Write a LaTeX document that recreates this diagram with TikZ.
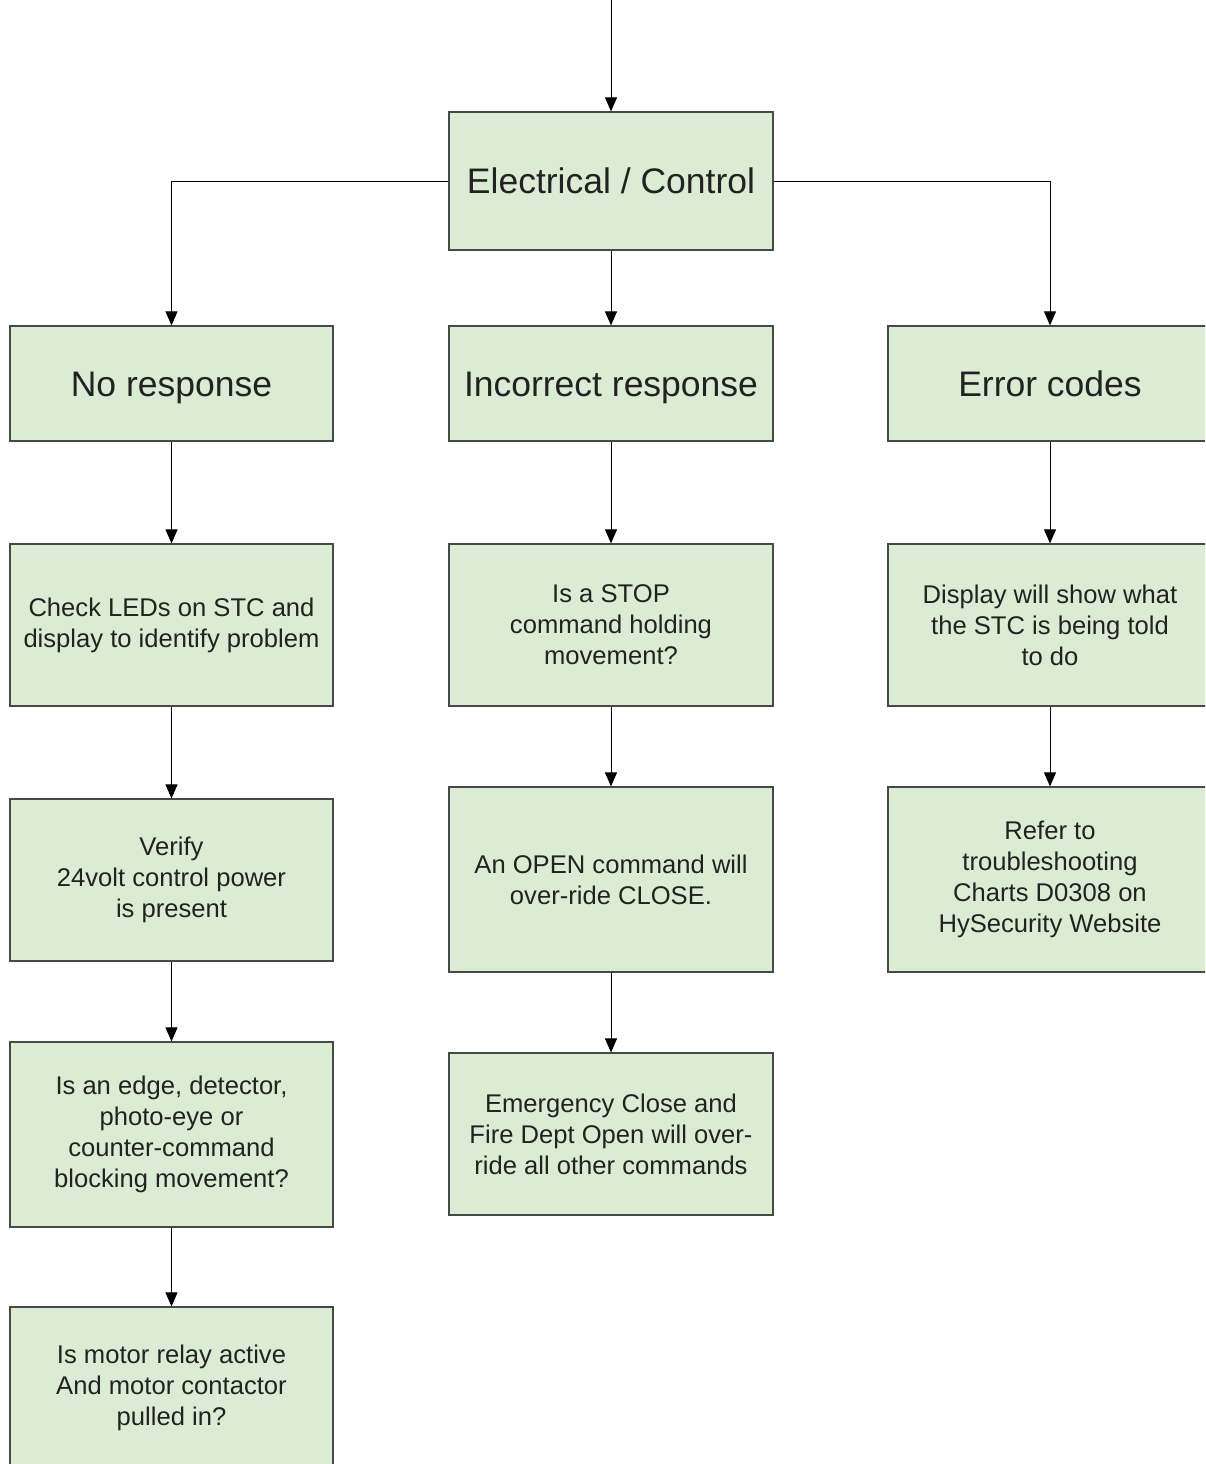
\documentclass[tikz,border=0pt]{standalone}
\usepackage{fontspec}
\setmainfont{Liberation Sans}
\usetikzlibrary{arrows.meta}
\definecolor{boxfill}{RGB}{220,236,212}
\definecolor{boxline}{RGB}{70,74,70}
\definecolor{txt}{RGB}{34,34,34}
\begin{document}
\begin{tikzpicture}[x=1pt,y=-1pt,
  box/.style={draw=boxline,line width=1.2pt,fill=boxfill,rectangle,inner sep=0pt,
    text=txt,align=center},
  big/.style={font=\fontsize{35.5}{40}\selectfont,text height=25.4pt,text depth=0pt},
  small/.style={font=\fontsize{25.6}{31}\selectfont},
  link/.style={line width=1pt,-{Triangle[length=14pt,width=12pt]}}]
\useasboundingbox (0,0) rectangle (1205,1464);
\clip (0,0) rectangle (1205,1464);
\fill[white] (0,0) rectangle (1205,1464);

% top level
\node[box,big,minimum width=324pt,minimum height=138pt] (top) at (611,181) {Electrical / Control};
\coordinate (entry) at (611,-5);

% second row
\node[box,big,minimum width=323pt,minimum height=115pt] (nr) at (171.5,383.5) {No response};
\node[box,big,minimum width=324pt,minimum height=115pt] (ir) at (611,383.5) {Incorrect response};
\node[box,big,minimum width=324pt,minimum height=115pt] (ec) at (1050,383.5) {Error codes};

% left column
\node[box,small,minimum width=323pt,minimum height=162pt] (l2) at (171.5,625) {Check LEDs on STC and\\display to identify problem};
\node[box,small,minimum width=323pt,minimum height=162pt] (l3) at (171.5,880) {Verify\\24volt control power\\is present};
\node[box,small,minimum width=323pt,minimum height=185pt] (l4) at (171.5,1134.5) {Is an edge, detector,\\photo-eye or\\counter-command\\blocking movement?};
\node[box,small,minimum width=323pt,minimum height=162pt] (l5) at (171.5,1388) {Is motor relay active\\And motor contactor\\pulled in?};

% middle column
\node[box,small,minimum width=324pt,minimum height=162pt] (m2) at (611,625) {Is a STOP\\command holding\\movement?};
\node[box,small,minimum width=324pt,minimum height=185pt] (m3) at (611,879.5) {An OPEN command will\\over-ride CLOSE.};
\node[box,small,minimum width=324pt,minimum height=162pt] (m4) at (611,1134) {Emergency Close and\\Fire Dept Open will over-\\ride all other commands};

% right column
\node[box,small,minimum width=324pt,minimum height=162pt] (r2) at (1050,625) {Display will show what\\the STC is being told\\to do};
\node[box,small,minimum width=324pt,minimum height=185pt] (r3) at (1050,879.5) {Refer to\\troubleshooting\\Charts D0308 on\\HySecurity Website};

% connectors
\draw[link] (entry) -- (top.north);
\draw[link] (top.west) -| (nr.north);
\draw[link] (top.east) -| (ec.north);
\draw[link] (top) -- (ir);
\draw[link] (nr) -- (l2);
\draw[link] (l2) -- (l3);
\draw[link] (l3) -- (l4);
\draw[link] (l4) -- (l5);
\draw[link] (ir) -- (m2);
\draw[link] (m2) -- (m3);
\draw[link] (m3) -- (m4);
\draw[link] (ec) -- (r2);
\draw[link] (r2) -- (r3);
\end{tikzpicture}
\end{document}
